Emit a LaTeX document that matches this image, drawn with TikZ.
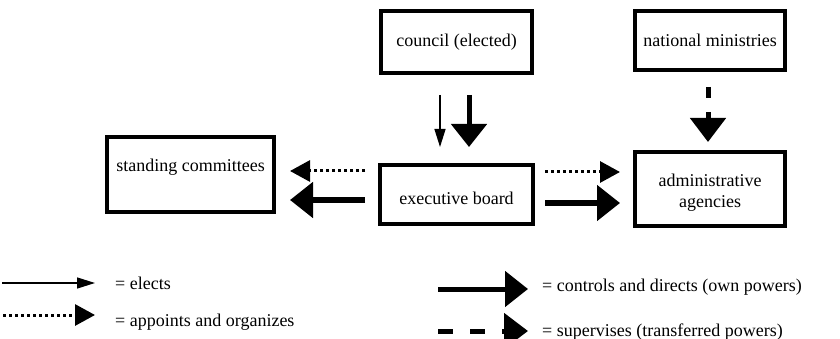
\documentclass[tikz,border=0pt]{standalone}
\usepackage{fontspec}
\setmainfont{Liberation Serif}
\usetikzlibrary{arrows.meta}
\begin{document}
\begin{tikzpicture}[x=1pt,y=-1pt,
  every node/.style={font=\rmfamily\fontsize{18}{21}\selectfont},
  box/.style={draw, line width=4.5pt, inner sep=0pt},
  txt/.style={inner sep=0pt},
  leg/.style={inner sep=0pt, anchor=west},
  electsarr/.style={line width=1.4pt, -{Triangle[length=18pt,width=11pt]}},
  appointarr/.style={line width=3pt, dash pattern=on 3pt off 3pt, -{Triangle[length=20pt,width=21pt]}},
  controlarr/.style={line width=5pt, -{Triangle[length=23pt,width=35pt]}},
  supervisearr/.style={line width=5pt, -{Triangle[length=24pt,width=35pt]}}
]
\useasboundingbox (0,0) rectangle (840,339);

% boxes
\node[box, minimum width=151pt, minimum height=62pt] (council) at (456.5,42) {council (elected)};
\node[box, minimum width=150pt, minimum height=59pt] (nat) at (710,40.5) {national ministries};
\node[box, minimum width=153pt, minimum height=59pt] (exec) at (456.5,194.5) {};
\node[txt] (exect) at (456.5,198) {executive board};
\node[box, minimum width=150pt, minimum height=74pt] (admin) at (710,189) {};
\node[txt, align=center] (admint) at (710,193) {administrative\\agencies};
\node[box, minimum width=167pt, minimum height=75pt] (sc) at (190.5,174.5) {};
\node[txt] (sct) at (190.5,167) {standing committees};

% connector end points
\coordinate (c1s) at (440,95);  \coordinate (c1e) at (440,147);
\coordinate (c2s) at (469,95);  \coordinate (c2e) at (469,147);
\coordinate (n1s) at (708,87);  \coordinate (n1e) at (708,142);
\coordinate (s1s) at (365,171); \coordinate (s1e) at (290,171);
\coordinate (s2s) at (365,200); \coordinate (s2e) at (290,200);
\coordinate (a1s) at (545,172); \coordinate (a1e) at (620,172);
\coordinate (a2s) at (545,203); \coordinate (a2e) at (620,203);

\draw[electsarr] (c1s) -- (c1e);
\draw[controlarr] (c2s) -- (c2e);
\draw[supervisearr, dash pattern=on 11pt off 14pt] (n1s) -- (n1e);
\draw[appointarr] (s1s) -- (s1e);
\draw[controlarr] (s2s) -- (s2e);
\draw[appointarr] (a1s) -- (a1e);
\draw[controlarr] (a2s) -- (a2e);

% legend
\coordinate (l1s) at (2,283);   \coordinate (l1e) at (95,283);
\coordinate (l2s) at (3,315);   \coordinate (l2e) at (95,315);
\coordinate (l3s) at (438,289); \coordinate (l3e) at (528,289);
\coordinate (l4s) at (438,331); \coordinate (l4e) at (528,331);
\draw[electsarr] (l1s) -- (l1e);
\draw[appointarr] (l2s) -- (l2e);
\draw[controlarr] (l3s) -- (l3e);
\draw[supervisearr, dash pattern=on 15pt off 17pt] (l4s) -- (l4e);

\node[leg] (t1) at (115,283) {= elects};
\node[leg] (t2) at (115,322) {= appoints and organizes};
\node[leg] (t3) at (542,287) {= controls and directs (own powers)};
\node[leg] (t4) at (542,332) {= supervises (transferred powers)};
\end{tikzpicture}
\end{document}
